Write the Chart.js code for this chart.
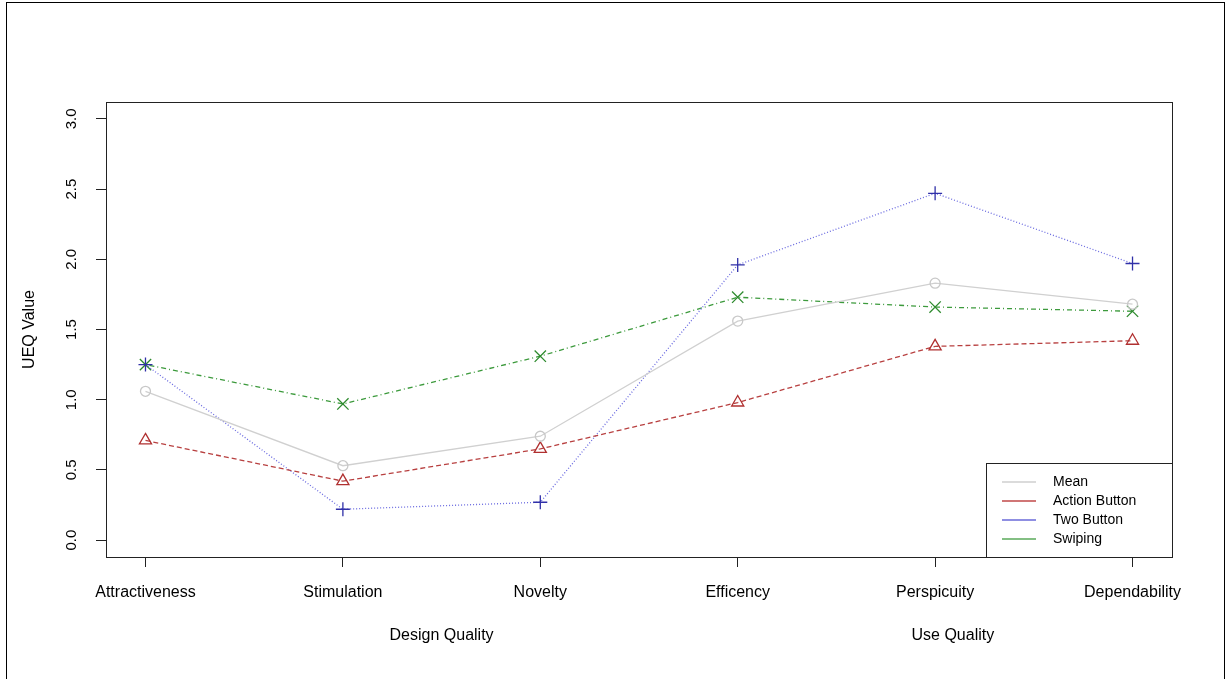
<!DOCTYPE html>
<html>
<head>
<meta charset="utf-8">
<script src="https://cdn.jsdelivr.net/npm/chart.js@4"></script>
<style>
  body { margin: 0; background: #fff; }
  #wrap { width: 1227px; height: 679px; }
</style>
</head>
<body>
<div id="wrap"><canvas id="myChart" width="1227" height="679"></canvas></div>
<script>
const categories = ['Attractiveness', 'Stimulation', 'Novelty', 'Efficency', 'Perspicuity', 'Dependability'];
const meanValues = [1.06, 0.53, 0.74, 1.56, 1.83, 1.68];
const actionButton = [0.71, 0.42, 0.65, 0.98, 1.38, 1.42];
const twoButton = [1.25, 0.22, 0.27, 1.96, 2.47, 1.97];
const swiping = [1.25, 0.97, 1.31, 1.73, 1.66, 1.63];
const yTicks = [0, 0.5, 1, 1.5, 2, 2.5, 3];
const groups = [{ label: 'Design Quality', at: 1.5 }, { label: 'Use Quality', at: 4.09 }];
const legendColors = ['#cfcfcf', '#c04848', '#6a6ad8', '#5aaa5a'];

const font = 'Liberation Sans, Arial, sans-serif';
const toXY = arr => arr.map((v, i) => ({ x: i, y: v }));

const boxPlugin = {
  id: 'rbox',
  beforeDraw(chart) {
    const c = chart.ctx;
    c.save();
    c.strokeStyle = '#000';
    c.lineWidth = 1;
    c.strokeRect(6.5, 2.5, 1218, 720);
    c.restore();
  },
  afterDraw(chart) {
    const c = chart.ctx;
    const a = chart.chartArea;
    const y = chart.scales.y;
    const x = chart.scales.x;
    c.save();
    c.strokeStyle = '#222';
    c.lineWidth = 1;
    c.strokeRect(Math.round(a.left) + 0.5, Math.round(a.top) + 0.5,
      Math.round(a.right - a.left), Math.round(a.bottom - a.top));

    // rotated y tick labels
    c.fillStyle = '#000';
    c.font = '15px ' + font;
    c.textAlign = 'center';
    c.textBaseline = 'middle';
    yTicks.forEach(v => {
      c.save();
      c.translate(a.left - 34, y.getPixelForValue(v));
      c.rotate(-Math.PI / 2);
      c.fillText(v.toFixed(1), 0, 0);
      c.restore();
    });
    // y title
    c.save();
    c.font = '16px ' + font;
    c.translate(30, y.getPixelForValue(1.5));
    c.rotate(-Math.PI / 2);
    c.fillText('UEQ Value', 0, 0);
    c.restore();
    // group labels
    c.font = '16px ' + font;
    groups.forEach(g => c.fillText(g.label, x.getPixelForValue(g.at), 636));

    // legend
    const w = 186, h = 94;
    const lx = Math.round(a.right) - w, ly = Math.round(a.bottom) - h;
    c.fillStyle = '#fff';
    c.fillRect(lx, ly, w, h);
    c.strokeStyle = '#222';
    c.strokeRect(lx + 0.5, ly + 0.5, w, h);
    c.font = '14px ' + font;
    c.textAlign = 'left';
    chart.data.datasets.forEach((ds, i) => {
      const yy = ly + 19 + i * 19;
      c.strokeStyle = legendColors[i];
      c.lineWidth = 1.5;
      c.beginPath();
      c.moveTo(lx + 16, yy);
      c.lineTo(lx + 50, yy);
      c.stroke();
      c.fillStyle = '#000';
      c.fillText(ds.label, lx + 67, yy);
    });
    c.restore();
  }
};

new Chart(document.getElementById('myChart'), {
  type: 'line',
  data: {
    datasets: [
      {
        label: 'Mean',
        data: toXY(meanValues),
        borderColor: '#d0d0d0',
        pointStyle: 'circle',
        pointRadius: 5,
        pointBorderColor: '#c8c8c8',
        pointBackgroundColor: 'rgba(0,0,0,0)',
        borderWidth: 1.3,
        tension: 0
      },
      {
        label: 'Action Button',
        data: toXY(actionButton),
        borderColor: '#b84040',
        borderDash: [5, 3],
        pointStyle: 'triangle',
        pointRadius: 7,
        pointBorderColor: '#b03030',
        pointBackgroundColor: 'rgba(0,0,0,0)',
        borderWidth: 1.3,
        tension: 0
      },
      {
        label: 'Two Button',
        data: toXY(twoButton),
        borderColor: '#6a6ae0',
        borderDash: [1, 2],
        pointStyle: 'cross',
        pointRadius: 7,
        pointBorderColor: '#3030a8',
        pointBackgroundColor: 'rgba(0,0,0,0)',
        borderWidth: 1.3,
        tension: 0
      },
      {
        label: 'Swiping',
        data: toXY(swiping),
        borderColor: '#3c9a3c',
        borderDash: [1, 3, 5, 3],
        pointStyle: 'crossRot',
        pointRadius: 8,
        pointBorderColor: '#2e8b2e',
        pointBackgroundColor: 'rgba(0,0,0,0)',
        borderWidth: 1.3,
        tension: 0
      }
    ]
  },
  options: {
    responsive: false,
    animation: false,
    layout: { padding: { top: 102, right: 55, left: 0, bottom: 0 } },
    plugins: { legend: { display: false }, tooltip: { enabled: false } },
    elements: { point: { borderWidth: 1.3 } },
    scales: {
      x: {
        type: 'linear',
        min: -0.2,
        max: 5.2,
        afterBuildTicks: s => { s.ticks = categories.map((c, i) => ({ value: i })); },
        afterFit: s => { s.height = 122; },
        border: { display: false },
        grid: { drawOnChartArea: false, drawTicks: true, tickLength: 10, color: '#222' },
        ticks: {
          autoSkip: false,
          maxRotation: 0,
          padding: 16,
          color: '#000',
          font: { family: font, size: 16 },
          callback: v => categories[v]
        }
      },
      y: {
        type: 'linear',
        min: -0.12,
        max: 3.12,
        afterBuildTicks: s => { s.ticks = yTicks.map(v => ({ value: v })); },
        afterFit: s => { s.width = 106; },
        border: { display: false },
        grid: { drawOnChartArea: false, drawTicks: true, tickLength: 10, color: '#222' },
        ticks: { display: false }
      }
    }
  },
  plugins: [boxPlugin]
});
</script>
</body>
</html>
